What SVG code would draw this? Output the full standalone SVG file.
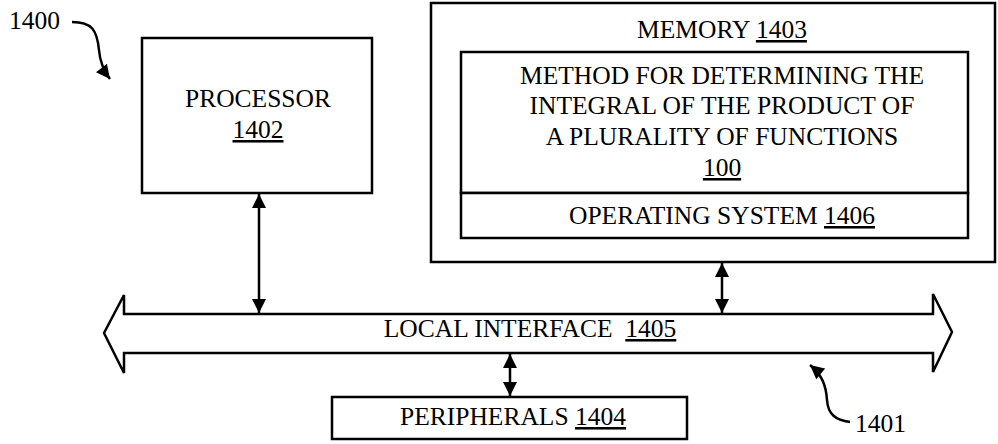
<svg xmlns="http://www.w3.org/2000/svg" width="998" height="444" viewBox="0 0 998 444">
<style>
.box{fill:#fff;stroke:#000;stroke-width:2.5}
.t{font-family:"Liberation Serif","Times New Roman",serif;font-size:25.5px;fill:#000;text-anchor:middle}
.u{text-decoration:underline}
.ln{stroke:#000;stroke-width:2.5;fill:none}
</style>
<defs>
<marker id="ah" viewBox="0 0 10 10" refX="10" refY="5" markerWidth="15" markerHeight="14" orient="auto-start-reverse" markerUnits="userSpaceOnUse">
<path d="M0,0 L10,5 L0,10 z" fill="#000"/>
</marker>
</defs>
<g id="processor">
<rect class="box" x="142" y="38" width="230" height="155"/>
<text class="t" x="258" y="107">PROCESSOR</text>
<text class="t" x="258" y="138"><tspan class="u">1402</tspan></text>
</g>
<g id="memory">
<rect class="box" x="431" y="3" width="564" height="259"/>
<text class="t" x="722" y="38">MEMORY <tspan class="u">1403</tspan></text>
</g>
<g id="method">
<rect class="box" x="461" y="52" width="507" height="141"/>
<text class="t" x="722" y="84">METHOD FOR DETERMINING THE</text>
<text class="t" x="722" y="114">INTEGRAL OF THE PRODUCT OF</text>
<text class="t" x="722" y="145">A PLURALITY OF FUNCTIONS</text>
<text class="t" x="722" y="176"><tspan class="u">100</tspan></text>
</g>
<g id="os">
<rect class="box" x="461" y="193" width="507" height="45"/>
<text class="t" x="722" y="224">OPERATING SYSTEM <tspan class="u">1406</tspan></text>
</g>
<g id="bus">
<path class="box" d="M104,333 L124,295 L124,314 L933,314 L933,294 L952,332 L933,372 L933,353 L124,353 L124,373 Z"/>
<text class="t" x="530" y="337" xml:space="preserve">LOCAL INTERFACE  <tspan class="u">1405</tspan></text>
</g>
<g id="peripherals">
<rect class="box" x="332" y="397" width="355" height="42"/>
<text class="t" x="513" y="425">PERIPHERALS <tspan class="u">1404</tspan></text>
</g>
<g id="labels">
<text class="t" x="9" y="29" style="text-anchor:start">1400</text>
<text class="t" x="855" y="432" style="text-anchor:start">1401</text>
</g>
<g id="connectors">
<line class="ln" x1="259" y1="194" x2="259" y2="313" marker-start="url(#ah)" marker-end="url(#ah)"/>
<line class="ln" x1="722" y1="263" x2="722" y2="313" marker-start="url(#ah)" marker-end="url(#ah)"/>
<line class="ln" x1="510" y1="354" x2="510" y2="396" marker-start="url(#ah)" marker-end="url(#ah)"/>
<path class="ln" d="M72,22 C92,22 97,30 99,50 C100,62 103,70 110,79" marker-end="url(#ah)"/>
<path class="ln" d="M850,422 C835,420 828,414 827,400 C826,385 822,375 810,365" marker-end="url(#ah)"/>
</g>
</svg>
